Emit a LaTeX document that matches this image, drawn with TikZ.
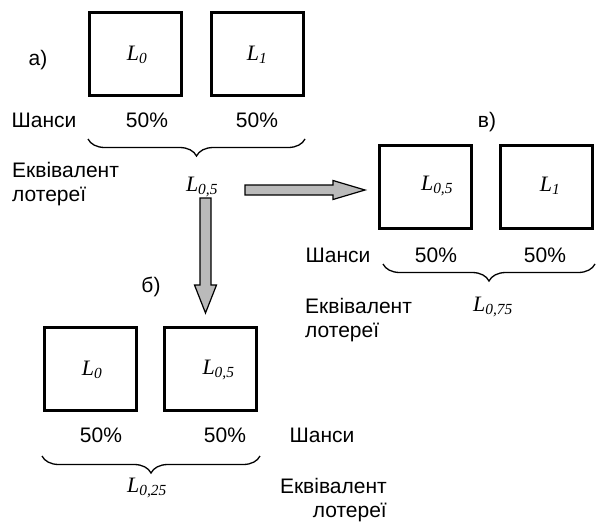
\documentclass[tikz,border=0pt]{standalone}
\usepackage{fontspec}
\setmainfont{Liberation Sans}
\newfontfamily\lotfont{Liberation Serif}
\usetikzlibrary{decorations.pathreplacing, calc}

\begin{document}
\begin{tikzpicture}[x=1pt, y=-1pt,
  lotbox/.style={draw, line width=3pt, minimum width=92pt, minimum height=83pt, inner sep=0pt},
  lab/.style={font=\fontsize{21}{24}\selectfont, inner sep=0pt},
  lot/.style={font=\fontsize{22}{24}\lotfont\itshape, inner sep=0pt},
  chance/.style={decorate, decoration={brace, mirror, amplitude=17pt}, line width=1.3pt},
  bigarrow/.style={draw, line width=1.2pt, fill=black!27, line join=miter}
]
  \useasboundingbox (0,0) rectangle (596,522);

  % a) the first lottery
  \node[lab] (tagA) at (38,60) {а)};
  \node[lotbox] (a0) at (135.5,54) {};
  \node[lotbox] (a1) at (257,54) {};
  \node[lot] at ($(a0)+(1.5,1)$) {L\textsubscript{0}};
  \node[lot] at ($(a1)+(0,1)$) {L\textsubscript{1}};
  \node[lab] (chA) at (44,120) {Шанси};
  \node[lab] (pA0) at (147,120) {50\%};
  \node[lab] (pA1) at (257,120) {50\%};
  \draw[chance] (88,139) -- (305,139);
  \node[lab, anchor=base west, align=left] (eqA) at (12,201) {Еквівалент\\лотереї};
  \node[lot] (resA) at (202,187) {L\textsubscript{0,5}};

  % b) the lower lottery
  \node[lab] (tagB) at (151,287) {б)};
  \node[lotbox] (b0) at (90,368.5) {};
  \node[lotbox] (b1) at (210.5,368.5) {};
  \node[lot] at ($(b0)+(2,1.5)$) {L\textsubscript{0}};
  \node[lot] at ($(b1)+(8,1.5)$) {L\textsubscript{0,5}};
  \node[lab] (pB0) at (101,435) {50\%};
  \node[lab] (pB1) at (225,435) {50\%};
  \node[lab] (chB) at (322,435) {Шанси};
  \draw[chance] (42,456) -- (260,456);
  \node[lot] (resB) at (147,488) {L\textsubscript{0,25}};
  \node[lab, anchor=base east, align=right] (eqB) at (387,517) {Еквівалент\\лотереї};

  % c) the right lottery
  \node[lab] (tagC) at (487,122) {в)};
  \node[lotbox] (c0) at (425,187) {};
  \node[lotbox] (c1) at (546,187) {};
  \node[lot] at ($(c0)+(12,-1)$) {L\textsubscript{0,5}};
  \node[lot] at ($(c1)+(4,-1)$) {L\textsubscript{1}};
  \node[lab] (chC) at (338,255) {Шанси};
  \node[lab] (pC0) at (436,255) {50\%};
  \node[lab] (pC1) at (545,255) {50\%};
  \draw[chance] (383,264) -- (595,264);
  \node[lab, anchor=base west, align=left] (eqC) at (305,337) {Еквівалент\\лотереї};
  \node[lot] (resC) at (493,307) {L\textsubscript{0,75}};

  % block arrows
  \coordinate (ha) at (245,190);
  \coordinate (hb) at (365,190);
  \coordinate (va) at (205.5,198);
  \coordinate (vb) at (205.5,313);
  \draw[bigarrow] ($(ha)+(0,-5)$) -- ($(hb)+(-32,-5)$) -- ($(hb)+(-32,-9.5)$) -- (hb)
    -- ($(hb)+(-32,9.5)$) -- ($(hb)+(-32,5)$) -- ($(ha)+(0,5)$) -- cycle;
  \draw[bigarrow] ($(va)+(-5.5,0)$) -- ($(vb)+(-5.5,-28)$) -- ($(vb)+(-11,-28)$) -- (vb)
    -- ($(vb)+(11,-28)$) -- ($(vb)+(5.5,-28)$) -- ($(va)+(5.5,0)$) -- cycle;
\end{tikzpicture}
\end{document}
